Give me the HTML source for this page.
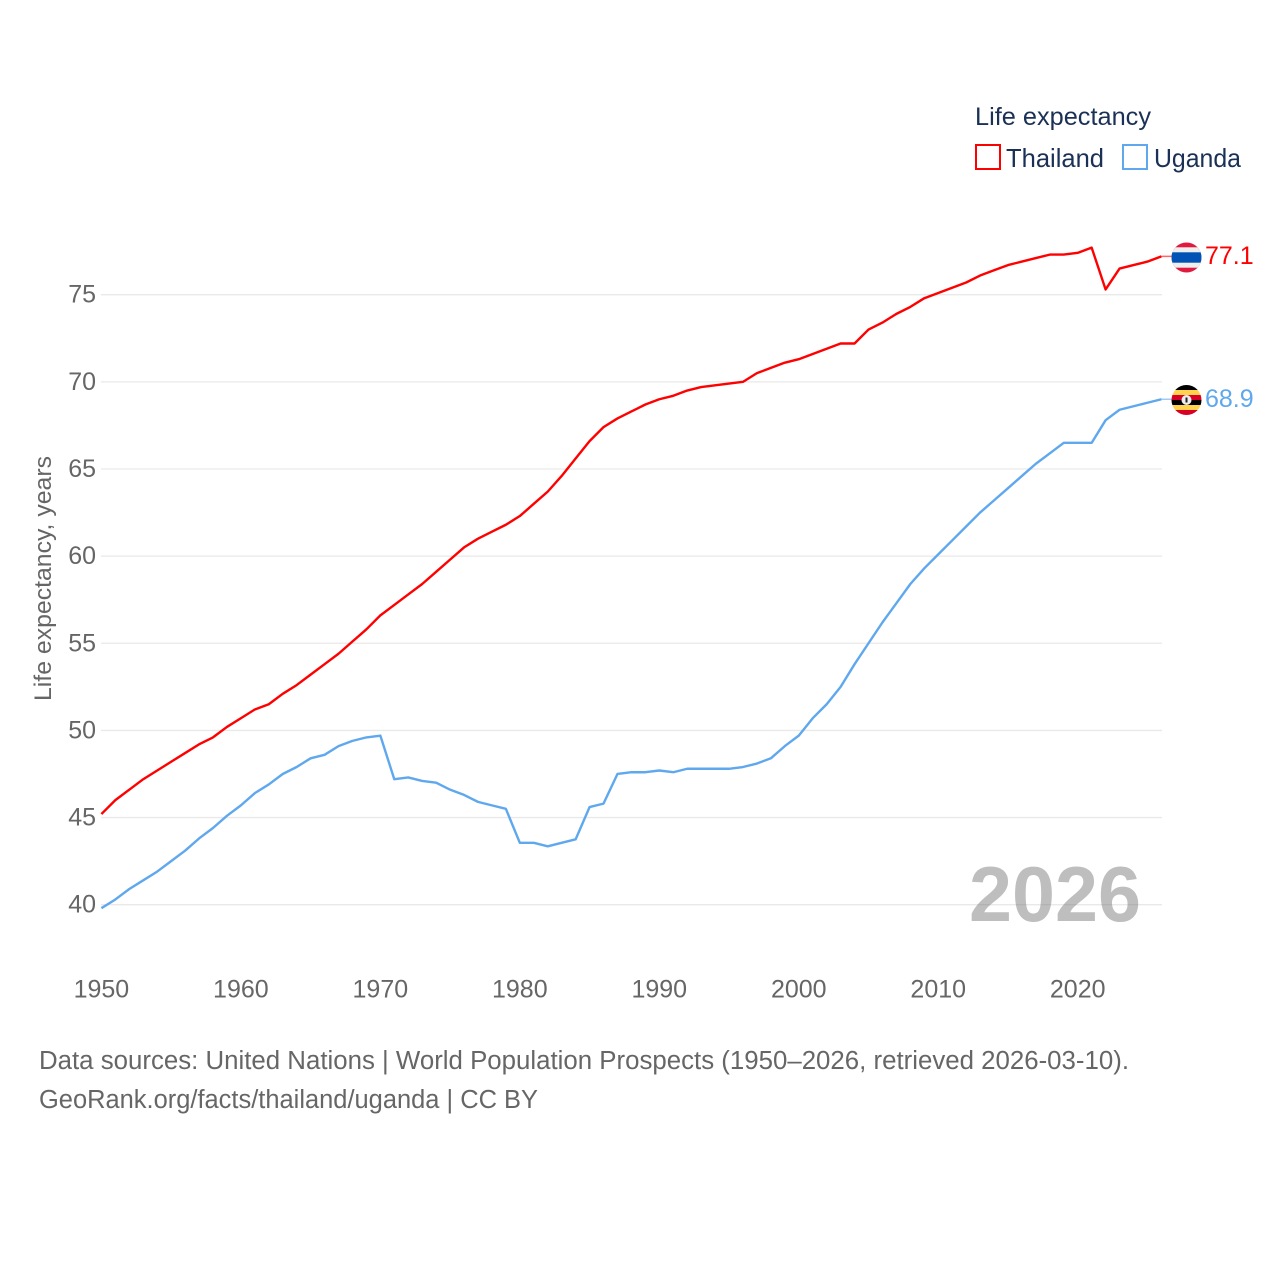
<!DOCTYPE html>
<html lang="en">
<head>
<meta charset="utf-8">
<title>Life expectancy: Thailand and Uganda</title>
<style>
html,body{margin:0;padding:0;background:#fff;}
svg{display:block;}
text{font-family:"Liberation Sans",sans-serif;}
</style>
</head>
<body>
<svg id="chart" xmlns="http://www.w3.org/2000/svg" width="1280" height="1280" viewBox="0 0 1280 1280">
  <rect x="0" y="0" width="1280" height="1280" fill="#ffffff"/>
  <g id="grid"></g>
  <g id="yticks"></g>
  <g id="xticks"></g>
  <text transform="translate(51,701) rotate(-90)" font-size="24" fill="#666666" textLength="245" lengthAdjust="spacingAndGlyphs">Life expectancy, years</text>

  <text x="1141" y="921" text-anchor="end" font-size="78" font-weight="700" fill="#777777" fill-opacity="0.48" textLength="172" lengthAdjust="spacingAndGlyphs">2026</text>

  <g id="series"></g>

  <g>
    <text x="975" y="125" font-size="25" fill="#1a3055" textLength="176" lengthAdjust="spacingAndGlyphs">Life expectancy</text>
    <rect x="976" y="145" width="24" height="24" fill="#ffffff" stroke="#ff0000" stroke-width="2"/>
    <text x="1006" y="167" font-size="26" fill="#1a3055" textLength="98" lengthAdjust="spacingAndGlyphs">Thailand</text>
    <rect x="1123" y="145" width="24" height="24" fill="#ffffff" stroke="#5fa8ee" stroke-width="2"/>
    <text x="1154" y="167" font-size="26" fill="#1a3055" textLength="87" lengthAdjust="spacingAndGlyphs">Uganda</text>
  </g>

  <defs>
    <clipPath id="flag-clip-th"><circle cx="1186.5" cy="257.5" r="15"/></clipPath>
    <clipPath id="flag-clip-ug"><circle cx="1186.5" cy="400" r="15"/></clipPath>
  </defs>
  <g id="flag-thailand" clip-path="url(#flag-clip-th)">
    <rect x="1171" y="242" width="31" height="31" fill="#e01a3f"/>
    <rect x="1171" y="247.3" width="31" height="20.4" fill="#eeeeee"/>
    <rect x="1171" y="252.3" width="31" height="10.4" fill="#0052b4"/>
  </g>
  <g id="flag-uganda" clip-path="url(#flag-clip-ug)">
    <rect x="1171" y="385" width="31" height="5" fill="#000000"/>
    <rect x="1171" y="390" width="31" height="5" fill="#ffd34d"/>
    <rect x="1171" y="395" width="31" height="5" fill="#d80027"/>
    <rect x="1171" y="400" width="31" height="5" fill="#000000"/>
    <rect x="1171" y="405" width="31" height="5" fill="#ffd34d"/>
    <rect x="1171" y="410" width="31" height="5" fill="#d80027"/>
    <circle cx="1186.5" cy="400" r="5" fill="#eeeeee"/>
    <rect x="1185.5" y="397.5" width="2" height="5" fill="#222222"/>
  </g>
  <g id="endlabels"></g>

  <g>
    <text x="39" y="1069" font-size="25.5" fill="#666666" textLength="1090" lengthAdjust="spacingAndGlyphs">Data sources: United Nations | World Population Prospects (1950–2026, retrieved 2026-03-10).</text>
    <text x="39" y="1108" font-size="25.5" fill="#666666" textLength="499" lengthAdjust="spacingAndGlyphs">GeoRank.org/facts/thailand/uganda | CC BY</text>
  </g>
</svg>
<script>
const years = [1950,1951,1952,1953,1954,1955,1956,1957,1958,1959,1960,1961,1962,1963,1964,1965,1966,1967,1968,1969,1970,1971,1972,1973,1974,1975,1976,1977,1978,1979,1980,1981,1982,1983,1984,1985,1986,1987,1988,1989,1990,1991,1992,1993,1994,1995,1996,1997,1998,1999,2000,2001,2002,2003,2004,2005,2006,2007,2008,2009,2010,2011,2012,2013,2014,2015,2016,2017,2018,2019,2020,2021,2022,2023,2024,2025,2026];
const thailand = [45.2,46.0,46.6,47.2,47.7,48.2,48.7,49.2,49.6,50.2,50.7,51.2,51.5,52.1,52.6,53.2,53.8,54.4,55.1,55.8,56.6,57.2,57.8,58.4,59.1,59.8,60.5,61.0,61.4,61.8,62.3,63.0,63.7,64.6,65.6,66.6,67.4,67.9,68.3,68.7,69.0,69.2,69.5,69.7,69.8,69.9,70.0,70.5,70.8,71.1,71.3,71.6,71.9,72.2,72.2,73.0,73.4,73.9,74.3,74.8,75.1,75.4,75.7,76.1,76.4,76.7,76.9,77.1,77.3,77.3,77.4,77.7,75.3,76.5,76.7,76.9,77.2];
const uganda = [39.8,40.3,40.9,41.4,41.9,42.5,43.1,43.8,44.4,45.1,45.7,46.4,46.9,47.5,47.9,48.4,48.6,49.1,49.4,49.6,49.7,47.2,47.3,47.1,47.0,46.6,46.3,45.9,45.7,45.5,43.55,43.55,43.35,43.55,43.75,45.6,45.8,47.5,47.6,47.6,47.7,47.6,47.8,47.8,47.8,47.8,47.9,48.1,48.4,49.1,49.7,50.7,51.5,52.5,53.8,55.0,56.2,57.3,58.4,59.3,60.1,60.9,61.7,62.5,63.2,63.9,64.6,65.3,65.9,66.5,66.5,66.5,67.8,68.4,68.6,68.8,69.0];
const yTickLabels = [40,45,50,55,60,65,70,75];
const xTickLabels = [1950,1960,1970,1980,1990,2000,2010,2020];
const endLabels = ["77.1","68.9"];

const NS = "http://www.w3.org/2000/svg";
function xScale(year){ return 101.4 + (year - 1950) * 1060 / 76; }
function yScale(value){ return 904.7 - (value - 40) * 610 / 35; }

const gridGroup = document.getElementById("grid");
const yTickGroup = document.getElementById("yticks");
const xTickGroup = document.getElementById("xticks");
const seriesGroup = document.getElementById("series");
const labelGroup = document.getElementById("endlabels");

yTickLabels.forEach(function(v){
  const line = document.createElementNS(NS, "line");
  
  
  line.setAttribute("x1", 101);
  line.setAttribute("x2", 1162);
  line.setAttribute("y1", yScale(v));
  line.setAttribute("y2", yScale(v));
  line.setAttribute("stroke", "#e9e9e9");
  line.setAttribute("stroke-width", "1.3");
  gridGroup.appendChild(line);

  const t = document.createElementNS(NS, "text");
  
  
  t.setAttribute("x", 96);
  t.setAttribute("y", yScale(v) + 8);
  t.setAttribute("text-anchor", "end");
  t.setAttribute("font-size", "25");
  t.setAttribute("fill", "#666666");
  t.textContent = v;
  yTickGroup.appendChild(t);
});

xTickLabels.forEach(function(y){
  const t = document.createElementNS(NS, "text");
  
  
  t.setAttribute("x", xScale(y));
  t.setAttribute("y", 997.5);
  t.setAttribute("text-anchor", "middle");
  t.setAttribute("font-size", "25");
  t.setAttribute("fill", "#666666");
  t.textContent = y;
  xTickGroup.appendChild(t);
});

function pathFor(values){
  return values.map(function(v, i){
    return (i ? "L" : "M") + xScale(years[i]).toFixed(2) + " " + yScale(v).toFixed(2);
  }).join(" ");
}

const thailandLine = document.createElementNS(NS, "path");


thailandLine.setAttribute("d", pathFor(thailand));
thailandLine.setAttribute("fill", "none");
thailandLine.setAttribute("stroke", "#ff0000");
thailandLine.setAttribute("stroke-width", "2.4");
thailandLine.setAttribute("stroke-linejoin", "round");
seriesGroup.appendChild(thailandLine);

const ugandaLine = document.createElementNS(NS, "path");


ugandaLine.setAttribute("d", pathFor(uganda));
ugandaLine.setAttribute("fill", "none");
ugandaLine.setAttribute("stroke", "#5fa8ee");
ugandaLine.setAttribute("stroke-width", "2.4");
ugandaLine.setAttribute("stroke-linejoin", "round");
seriesGroup.appendChild(ugandaLine);

const thailandConnector = document.createElementNS(NS, "line");


thailandConnector.setAttribute("x1", xScale(2026));
thailandConnector.setAttribute("x2", 1172);
thailandConnector.setAttribute("y1", yScale(thailand[76]));
thailandConnector.setAttribute("y2", yScale(thailand[76]));
thailandConnector.setAttribute("stroke", "#ff0000");
thailandConnector.setAttribute("stroke-opacity", "0.6");
thailandConnector.setAttribute("stroke-width", "1.5");
seriesGroup.appendChild(thailandConnector);

const ugandaConnector = document.createElementNS(NS, "line");


ugandaConnector.setAttribute("x1", xScale(2026));
ugandaConnector.setAttribute("x2", 1172);
ugandaConnector.setAttribute("y1", yScale(uganda[76]));
ugandaConnector.setAttribute("y2", yScale(uganda[76]));
ugandaConnector.setAttribute("stroke", "#5fa8ee");
ugandaConnector.setAttribute("stroke-opacity", "0.6");
ugandaConnector.setAttribute("stroke-width", "1.5");
seriesGroup.appendChild(ugandaConnector);

const thailandLabel = document.createElementNS(NS, "text");


thailandLabel.setAttribute("x", 1205);
thailandLabel.setAttribute("y", yScale(thailand[76]) + 7.5);
thailandLabel.setAttribute("font-size", "25");
thailandLabel.setAttribute("fill", "#ff0000");
thailandLabel.textContent = endLabels[0];
labelGroup.appendChild(thailandLabel);

const ugandaLabel = document.createElementNS(NS, "text");


ugandaLabel.setAttribute("x", 1205);
ugandaLabel.setAttribute("y", yScale(uganda[76]) + 7.5);
ugandaLabel.setAttribute("font-size", "25");
ugandaLabel.setAttribute("fill", "#5fa8ee");
ugandaLabel.textContent = endLabels[1];
labelGroup.appendChild(ugandaLabel);
</script>
</body>
</html>
